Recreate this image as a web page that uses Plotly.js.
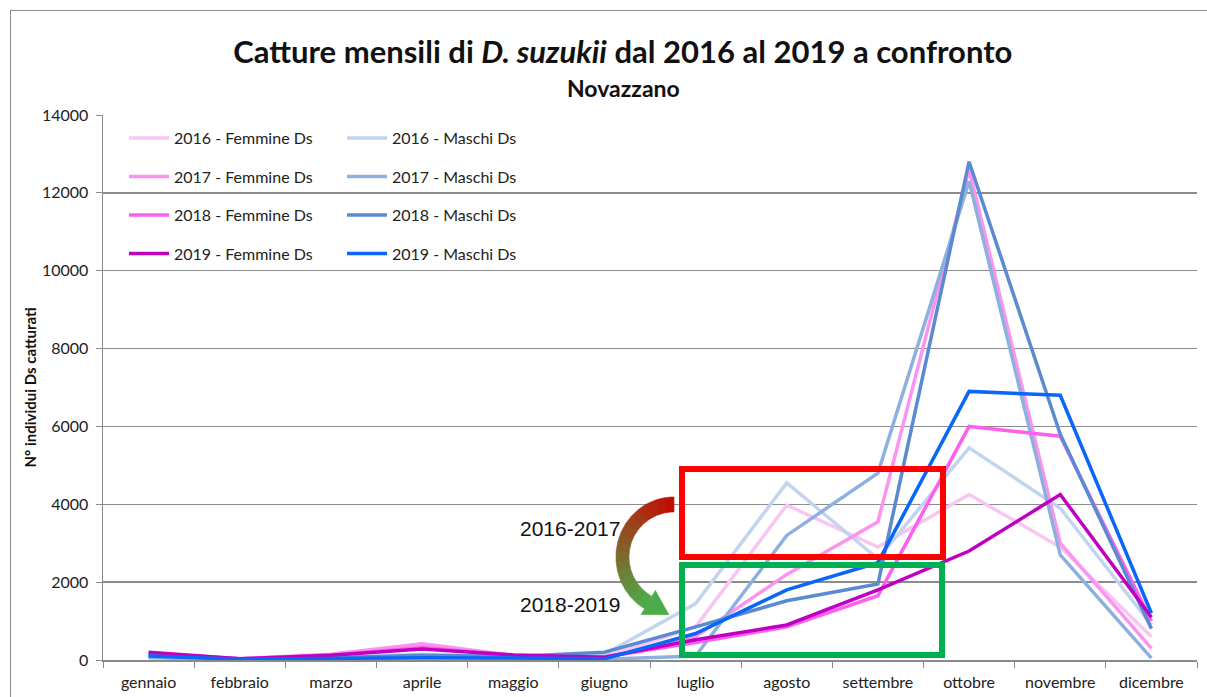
<!DOCTYPE html>
<html>
<head>
<meta charset="utf-8">
<script src="https://cdn.plot.ly/plotly-3.0.1.min.js"></script>
<style>
  body { margin: 0; background: #fff; }
  #myPlot { width: 1207px; height: 697px; }
  #frame { position: absolute; left: 10px; top: 10px; width: 1300px; height: 800px;
           border: 1.5px solid #8a8a8a; pointer-events: none; }
</style>
</head>
<body>
<div id="myPlot"></div>
<div id="frame"></div>
<script>
        // Monthly catches
        const months = ["gennaio", "febbraio", "marzo", "aprile", "maggio", "giugno",
                        "luglio", "agosto", "settembre", "ottobre", "novembre", "dicembre"];

        const femmine2016 = [150, 30, 120, 400, 120, 80, 850, 3980, 2900, 4250, 2900, 600];
        const maschi2016  = [100, 20, 60, 150, 80, 150, 1450, 4550, 2600, 5450, 3900, 900];
        const femmine2017 = [150, 30, 150, 420, 120, 60, 600, 2200, 3550, 12600, 3000, 300];
        const maschi2017  = [60, 10, 20, 60, 40, 20, 100, 3200, 4800, 12300, 2700, 50];
        const femmine2018 = [180, 30, 130, 320, 120, 80, 450, 850, 1650, 6000, 5750, 1000];
        const maschi2018  = [120, 20, 60, 120, 90, 200, 850, 1520, 1950, 12800, 5800, 800];
        const femmine2019 = [200, 30, 120, 280, 130, 70, 520, 900, 1800, 2800, 4250, 1100];
        const maschi2019  = [100, 20, 40, 60, 50, 30, 680, 1800, 2500, 6900, 6800, 1200];

        const seriesNames = ["2016 - Femmine Ds", "2016 - Maschi Ds", "2017 - Femmine Ds", "2017 - Maschi Ds",
                             "2018 - Femmine Ds", "2018 - Maschi Ds", "2019 - Femmine Ds", "2019 - Maschi Ds"];
        const seriesValues = [femmine2016, maschi2016, femmine2017, maschi2017,
                              femmine2018, maschi2018, femmine2019, maschi2019];
        const seriesColors = ["#f9c6f1", "#c3d5ee", "#fc94ef", "#8eb0df",
                              "#fd5fef", "#5a8ad2", "#c000c0", "#0a66f7"];

        var data = [];
        for (var i = 0; i < seriesNames.length; i++) {
            data.push({
                x: months,
                y: seriesValues[i],
                name: seriesNames[i],
                type: "scatter",
                mode: "lines",
                line: { color: seriesColors[i], width: 3.5 },
                legend: (i % 2 === 0) ? "legend" : "legend2",
                legendgroup: "g" + i,
                hoverinfo: "skip"
            });
        }

        // pixel -> paper helpers (plot area 103..1197 x 115..660)
        function px(x) { return (x - 103) / 1094; }
        function py(y) { return (660 - y) / 545; }

        // curved gradient arrow (red -> green)
        var shapes = [];
        var cx = 674, cy = 557;
        var rxO = 58, ryO = 60, rxI = 45, ryI = 45;
        var phiEnd = 150 * Math.PI / 180;
        var nSeg = 16;
        function pt(rx, ry, phi) {
            return [px(cx - rx * Math.sin(phi)), py(cy - ry * Math.cos(phi))];
        }
        function mix(a, b, t) { return Math.round(a + (b - a) * t); }
        for (var s = 0; s < nSeg; s++) {
            var a = phiEnd * s / nSeg, b = phiEnd * (s + 1.08) / nSeg;
            if (b > phiEnd) b = phiEnd;
            var pts = [];
            for (var k = 0; k <= 3; k++) pts.push(pt(rxO, ryO, a + (b - a) * k / 3));
            for (var k = 3; k >= 0; k--) pts.push(pt(rxI, ryI, a + (b - a) * k / 3));
            var path = "M" + pts.map(function (p) { return p[0] + "," + p[1]; }).join(" L") + " Z";
            var t = (s + 0.5) / nSeg;
            var col = "rgb(" + mix(196, 76, t) + "," + mix(10, 172, t) + "," + mix(0, 76, t) + ")";
            shapes.push({ type: "path", xref: "paper", yref: "paper", path: path,
                          fillcolor: col, line: { color: col, width: 0.6 } });
        }
        // arrow head
        var rm = (rxO + rxI) / 2, rym = (ryO + ryI) / 2;
        var mx = cx - rm * Math.sin(phiEnd), my = cy - rym * Math.cos(phiEnd);
        var tx = -rm * Math.cos(phiEnd), ty = rym * Math.sin(phiEnd);
        var tl = Math.sqrt(tx * tx + ty * ty); tx /= tl; ty /= tl;
        var nx = -ty, ny = tx;
        var headPath = "M" + px(mx + 14 * nx) + "," + py(my + 14 * ny) +
                       " L" + px(mx + 24 * tx) + "," + py(my + 24 * ty) +
                       " L" + px(mx - 14 * nx) + "," + py(my - 14 * ny) + " Z";
        shapes.push({ type: "path", xref: "paper", yref: "paper", path: headPath,
                      fillcolor: "rgb(76,172,76)", line: { color: "rgb(76,172,76)", width: 0.6 } });

        // highlight boxes
        shapes.push({ type: "rect", xref: "paper", yref: "paper",
                      x0: px(682), x1: px(943), y0: py(557), y1: py(469),
                      line: { color: "#ff0000", width: 6 } });
        shapes.push({ type: "rect", xref: "paper", yref: "paper",
                      x0: px(682), x1: px(942), y0: py(655), y1: py(565),
                      line: { color: "#00b050", width: 6 } });

        var legendCommon = {
            yanchor: "top",
            traceorder: "grouped",
            tracegroupgap: 14.7,
            itemwidth: 40,
            font: { size: 16, color: "#222" },
            bgcolor: "rgba(255,255,255,0)"
        };

        const layout = {
            width: 1207,
            height: 697,
            margin: { l: 103, r: 10, t: 115, b: 37 },
            paper_bgcolor: "#fff",
            plot_bgcolor: "#fff",
            font: { family: "Lato, 'Open Sans', sans-serif", size: 16, color: "#222" },
            title: {
                text: "Catture mensili di <i>D. suzukii</i> dal 2016 al 2019 a confronto",
                font: { family: "Lato, 'Open Sans', sans-serif", size: 31, color: "#111", weight: "bold" },
                x: 0.516, xanchor: "center",
                y: 1 - 52 / 697, yanchor: "middle", yref: "container"
            },
            xaxis: {
                type: "category",
                range: [-0.5, 11.5],
                tickson: "boundaries",
                ticks: "outside",
                ticklen: 6,
                tickcolor: "#8a8a8a",
                showline: true,
                linecolor: "#8a8a8a",
                linewidth: 1.5,
                showgrid: false,
                tickfont: { size: 16, color: "#222" },
                ticklabelstandoff: 7,
                fixedrange: true
            },
            yaxis: {
                range: [0, 14000],
                dtick: 2000,
                tickformat: "d",
                ticks: "outside",
                ticklen: 6,
                tickcolor: "#8a8a8a",
                showline: true,
                linecolor: "#8a8a8a",
                linewidth: 1.5,
                showgrid: true,
                gridcolor: "#8c8c8c",
                gridwidth: 1.5,
                zeroline: false,
                tickfont: { size: 16, color: "#222" },
                ticklabelstandoff: 4,
                title: {
                    text: "N° individui Ds catturati",
                    font: { size: 15, color: "#111", weight: "bold" },
                    standoff: 1
                },
                fixedrange: true
            },
            legend: Object.assign({ x: px(124), xanchor: "left", y: py(121) }, legendCommon),
            legend2: Object.assign({ x: px(342), xanchor: "left", y: py(121) }, legendCommon),
            annotations: [
                { text: "<b>Novazzano</b>", xref: "paper", yref: "paper", x: px(623), y: py(88),
                  xanchor: "center", yanchor: "middle",
                  showarrow: false, font: { size: 23, color: "#111" } },
                { text: "2016-2017", xref: "paper", yref: "paper", x: px(570), y: py(528),
                  xanchor: "center", yanchor: "middle",
                  showarrow: false, font: { family: "'Liberation Sans', Arial", size: 21, color: "#111" } },
                { text: "2018-2019", xref: "paper", yref: "paper", x: px(570), y: py(604),
                  xanchor: "center", yanchor: "middle",
                  showarrow: false, font: { family: "'Liberation Sans', Arial", size: 21, color: "#111" } }
            ],
            shapes: shapes,
            showlegend: true
        };

        Plotly.newPlot("myPlot", data, layout, { displayModeBar: false, staticPlot: true });
</script>
</body>
</html>
